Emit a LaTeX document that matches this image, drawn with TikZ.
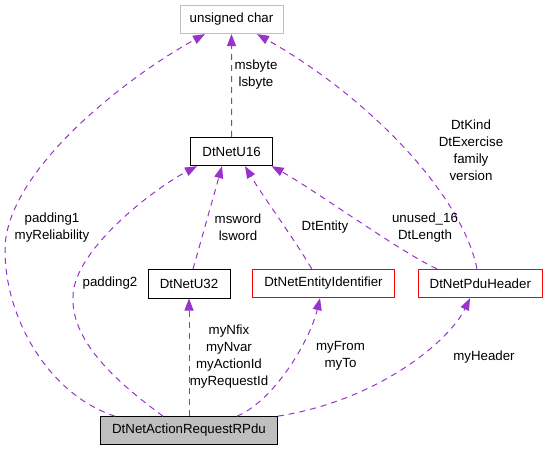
\documentclass[tikz,border=0pt]{standalone}
\usepackage{fontspec}
\setmainfont{Liberation Sans}
\usetikzlibrary{arrows.meta}
\definecolor{edgepurple}{HTML}{9A32CD}
\definecolor{boxgray}{HTML}{BFBFBF}
\definecolor{boxred}{HTML}{FF0000}
\tikzset{
  every node/.style={font=\fontsize{13.3bp}{17bp}\selectfont},
  cls/.style={draw=black, line width=1bp, inner sep=0pt, minimum height=28.4bp},
  clsred/.style={cls, draw=boxred},
  clsgray/.style={cls, draw=boxgray},
  clsmain/.style={cls, fill=boxgray},
  rel/.style={draw=edgepurple, line width=1bp, dash pattern=on 6bp off 5bp,
    -{Triangle[length=12bp,width=9bp,fill=edgepurple]}},
  lbl/.style={align=center, inner sep=0pt}
}
\begin{document}
\begin{tikzpicture}[x=1bp,y=-1bp]
\useasboundingbox (0,0) rectangle (546,451);
% classes
\node[clsgray, minimum width=103bp] (uc) at (231.5,19.4) {unsigned char};
\node[cls, minimum width=81.8bp] (u16) at (231.6,151.5) {DtNetU16};
\node[cls, minimum width=82bp] (u32) at (189,283.8) {DtNetU32};
\node[clsred, minimum width=141.6bp] (ei) at (323.5,283.5) {DtNetEntityIdentifier};
\node[clsred, minimum width=124bp] (pdu) at (480.3,283.5) {DtNetPduHeader};
\node[clsmain, minimum width=176.6bp, minimum height=27.6bp] (main) at (189,430.5) {DtNetActionRequestRPdu};
% relations
\draw[rel] ([xshift=-74bp]main.north) .. controls (50,395) and (5,320) .. (5,250)
  .. controls (5,170) and (130,75) .. ([xshift=-26.5bp]uc.south);
\draw[rel] ([xshift=-26bp]main.north) .. controls (125,388) and (71,345) .. (73,297)
  .. controls (73,250) and (155,188) .. ([xshift=-34.6bp]u16.south);
\draw[rel] ([xshift=4bp]u32.north) -- ([xshift=-9.6bp]u16.south);
\draw[rel] ([xshift=-11.8bp]ei.north) .. controls (295,240) and (262,195) .. ([xshift=13.4bp]u16.south);
\draw[rel] ([xshift=-43.3bp]pdu.north) .. controls (405,255) and (310,187) .. ([xshift=40bp]u16.south);
\draw[rel] (u16.north) -- (uc.south);
\draw[rel] ([xshift=-3.3bp]pdu.north) .. controls (462,195) and (370,98) .. ([xshift=25.5bp]uc.south);
\draw[rel] (main.north) -- (u32.south);
\draw[rel] ([xshift=48bp]main.north) .. controls (275,400) and (310,340) .. ([xshift=-3.5bp]ei.south);
\draw[rel] (main.north east) .. controls (380,400) and (450,340) .. ([xshift=-10.3bp]pdu.south);
% labels
\node[lbl] (l1) at (52,227.5) {padding1\\myReliability};
\node[lbl] (l2) at (110,283) {padding2};
\node[lbl] (l3) at (238,227.5) {msword\\lsword};
\node[lbl] (l4) at (325,227) {DtEntity};
\node[lbl] (l5) at (425,227.5) {unused\_16\\DtLength};
\node[lbl] (l6) at (256,75) {msbyte\\lsbyte};
\node[lbl] (l7) at (471,150.3) {DtKind\\DtExercise\\family\\version};
\node[lbl] (l8) at (229,356.7) {myNfix\\myNvar\\myActionId\\myRequestId};
\node[lbl] (l9) at (340.5,356) {myFrom\\myTo};
\node[lbl] (l10) at (484,356.7) {myHeader};
\end{tikzpicture}
\end{document}
